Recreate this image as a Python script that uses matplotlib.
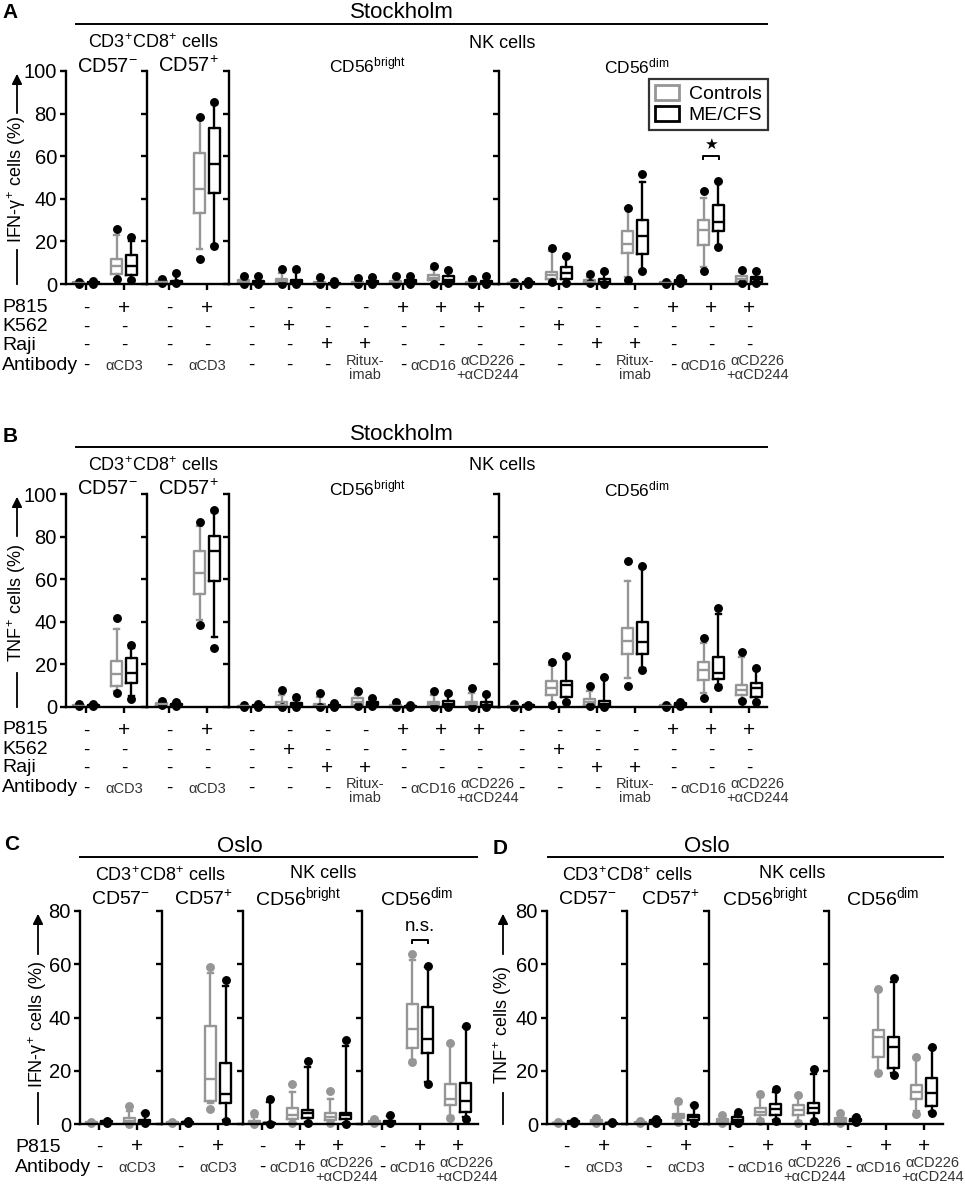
import matplotlib
matplotlib.use('Agg')
import matplotlib.pyplot as plt
from matplotlib.lines import Line2D
from matplotlib.patches import Patch, FancyArrowPatch
import matplotlib.transforms as mtrans

plt.rcParams['font.family'] = ['Liberation Sans', 'DejaVu Sans']
plt.rcParams['mathtext.fontset'] = 'custom'
plt.rcParams['mathtext.rm'] = 'Liberation Sans'
plt.rcParams['mathtext.it'] = 'Liberation Sans:italic'
plt.rcParams['mathtext.bf'] = 'Liberation Sans:bold'

# ---------------- DATA: each box = [min, whisker_lo, q1, median, q3, whisker_hi, max] ----------------
# Panel A (Stockholm, IFN-gamma)
A_cd57neg_ctrl = [[0.2, 0.2, 0.3, 0.5, 0.8, 1.0, 1.0], [2.2, 2.2, 4.7, 8.6, 11.6, 22.8, 26.0]]
A_cd57neg_me = [[0.2, 0.2, 0.3, 0.5, 0.9, 1.4, 1.4], [1.9, 2.2, 4.4, 8.6, 13.6, 20.3, 22.0]]
A_cd57pos_ctrl = [[0.5, 0.5, 0.7, 1.0, 1.5, 2.2, 2.2], [11.7, 16.6, 33.2, 44.8, 61.3, 77.8, 78.4]]
A_cd57pos_me = [[0.3, 0.3, 0.5, 0.8, 1.5, 4.5, 5.0], [18.0, 18.3, 42.9, 56.3, 73.4, 84.5, 85.6]]
A_bright_ctrl = [[0.1, 0.1, 0.3, 0.8, 1.8, 3.0, 3.8], [0.2, 0.2, 0.5, 1.2, 2.2, 5.0, 7.2],
                 [0.1, 0.1, 0.2, 0.4, 1.0, 2.5, 3.4], [0.1, 0.1, 0.2, 0.4, 0.8, 2.0, 2.8],
                 [0.1, 0.1, 0.3, 0.8, 1.5, 3.0, 3.8], [0.2, 0.3, 1.9, 2.8, 4.2, 6.9, 8.5],
                 [0.1, 0.1, 0.2, 0.5, 1.0, 1.8, 2.2]]
A_bright_me = [[0.1, 0.1, 0.2, 0.5, 1.5, 3.2, 3.8], [0.1, 0.1, 0.3, 0.8, 2.0, 5.5, 6.9],
               [0.05, 0.05, 0.1, 0.2, 0.5, 1.2, 1.6], [0.1, 0.1, 0.3, 0.6, 1.2, 2.8, 3.4],
               [0.2, 0.2, 0.5, 1.0, 2.0, 3.0, 3.8], [0.3, 0.5, 1.0, 2.0, 3.8, 5.8, 6.6],
               [0.1, 0.1, 0.3, 0.6, 1.2, 3.0, 3.8]]
A_dim_ctrl = [[0.2, 0.2, 0.3, 0.5, 0.7, 1.0, 1.0], [1.0, 1.4, 2.2, 4.2, 5.8, 15.6, 17.0],
              [0.3, 0.3, 0.5, 0.9, 1.9, 3.5, 4.7], [1.9, 3.4, 14.4, 18.6, 24.7, 35.5, 35.8],
              [0.2, 0.2, 0.3, 0.5, 0.8, 1.0, 1.0], [6.1, 8.1, 18.3, 25.4, 30.0, 40.2, 43.7],
              [0.5, 0.8, 1.0, 2.2, 3.8, 5.5, 6.6]]
A_dim_me = [[0.2, 0.2, 0.3, 0.5, 0.9, 1.4, 1.4], [0.6, 1.0, 2.2, 5.3, 8.1, 12.8, 13.3],
            [0.2, 0.3, 0.5, 1.0, 2.2, 5.0, 6.3], [6.1, 6.5, 13.9, 22.5, 29.9, 47.7, 51.6],
            [0.3, 0.5, 0.8, 1.2, 2.0, 2.7, 2.7], [17.4, 17.8, 24.9, 29.3, 37.2, 48.0, 48.4],
            [0.5, 0.8, 1.0, 2.5, 3.5, 5.5, 6.3]]

# Panel B (Stockholm, TNF)
B_cd57neg_ctrl = [[0.3, 0.3, 0.5, 0.7, 1.0, 1.3, 1.3], [6.5, 7.6, 9.7, 15.7, 21.8, 36.6, 41.6]]
B_cd57neg_me = [[0.3, 0.3, 0.5, 0.8, 1.1, 1.6, 1.6], [3.9, 5.0, 11.2, 15.9, 23.2, 27.6, 29.1]]
B_cd57pos_ctrl = [[0.8, 0.8, 1.0, 1.5, 2.0, 2.6, 2.6], [38.5, 40.7, 53.1, 63.1, 73.2, 84.9, 87.0]]
B_cd57pos_me = [[0.5, 0.6, 0.8, 1.2, 1.6, 2.2, 2.2], [27.7, 32.7, 59.0, 73.4, 80.2, 91.7, 92.7]]
B_bright_ctrl = [[0.1, 0.1, 0.2, 0.4, 0.7, 1.0, 1.0], [0.2, 0.2, 0.4, 0.9, 2.2, 5.5, 7.9],
                 [0.1, 0.1, 0.3, 0.6, 1.5, 4.5, 6.5], [0.3, 0.5, 1.0, 2.2, 4.2, 5.5, 7.3],
                 [0.1, 0.1, 0.2, 0.4, 0.8, 1.8, 2.2], [0.2, 0.3, 0.5, 1.2, 2.5, 5.5, 7.6],
                 [0.2, 0.3, 0.5, 1.2, 2.5, 6.5, 8.9]]
B_bright_me = [[0.1, 0.1, 0.3, 0.5, 0.8, 1.4, 1.4], [0.2, 0.3, 0.5, 0.9, 2.0, 3.5, 4.5],
               [0.1, 0.1, 0.3, 0.6, 1.0, 1.6, 1.9], [0.3, 0.5, 0.8, 1.5, 2.5, 3.6, 4.2],
               [0.1, 0.1, 0.2, 0.4, 0.6, 0.9, 1.0], [0.2, 0.3, 0.6, 1.5, 3.0, 5.5, 6.4],
               [0.2, 0.3, 0.5, 1.0, 2.5, 5.0, 6.1]]
B_dim_ctrl = [[0.1, 0.1, 0.2, 0.3, 0.6, 1.0, 1.4], [0.8, 1.9, 5.5, 8.9, 12.0, 19.8, 21.3],
              [0.3, 0.5, 1.1, 2.2, 3.9, 7.5, 9.7], [10.0, 13.5, 24.9, 31.2, 37.2, 59.2, 68.4],
              [0.2, 0.2, 0.3, 0.5, 0.8, 1.0, 1.0], [4.2, 6.5, 12.5, 17.4, 21.3, 29.9, 32.2],
              [2.6, 3.4, 5.5, 8.1, 10.4, 23.4, 26.0]]
B_dim_me = [[0.3, 0.3, 0.5, 0.8, 1.0, 1.1, 1.1], [2.3, 3.0, 4.5, 10.4, 12.3, 23.7, 24.0],
            [0.2, 0.3, 0.5, 1.2, 3.0, 13.5, 14.3], [17.3, 18.2, 24.8, 30.7, 40.0, 65.4, 66.2],
            [0.3, 0.5, 0.8, 1.2, 1.8, 2.2, 2.2], [9.3, 10.4, 13.2, 15.9, 23.7, 43.5, 46.6],
            [2.2, 3.0, 4.8, 8.9, 11.2, 17.5, 18.2]]

# Panel C (Oslo, IFN-gamma)
C_cd57neg_ctrl = [[0.2, 0.2, 0.3, 0.5, 0.7, 0.9, 0.9], [0.1, 0.2, 0.5, 1.0, 2.1, 5.0, 6.8]]
C_cd57neg_me = [[0.5, 0.5, 0.6, 0.8, 1.0, 1.2, 1.2], [0.3, 0.4, 0.6, 1.0, 1.5, 4.0, 4.0]]
C_cd57pos_ctrl = [[0.2, 0.2, 0.3, 0.5, 0.7, 0.9, 0.9], [5.6, 8.0, 8.8, 17.0, 36.9, 56.8, 59.0]]
C_cd57pos_me = [[0.3, 0.3, 0.5, 0.6, 0.9, 1.2, 1.2], [1.3, 1.5, 8.0, 11.1, 22.8, 52.0, 54.0]]
C_bright_ctrl = [[0.1, 0.1, 0.2, 0.4, 1.0, 2.5, 4.0], [0.3, 0.5, 1.8, 3.4, 5.9, 12.0, 15.0],
                 [0.3, 0.5, 1.5, 2.8, 4.3, 9.5, 12.5]]
C_bright_me = [[0.1, 0.1, 0.2, 0.3, 0.5, 8.4, 9.5], [0.3, 0.8, 2.1, 4.0, 5.3, 21.5, 23.5],
               [0.1, 0.3, 1.8, 3.4, 4.3, 29.3, 31.5]]
C_dim_ctrl = [[0.3, 0.3, 0.5, 0.8, 1.2, 1.8, 1.8], [23.2, 24.0, 28.4, 35.7, 45.0, 61.6, 64.0],
              [2.1, 3.0, 7.1, 9.4, 15.0, 30.0, 30.5]]
C_dim_me = [[0.2, 0.2, 0.3, 0.5, 1.0, 3.0, 3.4], [15.1, 15.6, 26.8, 32.0, 44.0, 59.0, 59.4],
            [2.0, 2.5, 4.5, 8.8, 15.3, 36.5, 36.9]]

# Panel D (Oslo, TNF)
D_cd57neg_ctrl = [[0.2, 0.2, 0.3, 0.4, 0.5, 0.6, 0.6], [0.5, 0.5, 0.8, 1.2, 1.6, 2.1, 2.1]]
D_cd57neg_me = [[0.5, 0.5, 0.6, 0.8, 1.0, 1.1, 1.1], [0.2, 0.2, 0.3, 0.4, 0.5, 0.6, 0.6]]
D_cd57pos_ctrl = [[0.2, 0.2, 0.3, 0.5, 0.7, 1.0, 1.0], [0.9, 1.2, 2.1, 3.0, 3.8, 7.5, 8.6]]
D_cd57pos_me = [[0.5, 0.5, 0.8, 1.0, 1.5, 1.9, 1.9], [0.5, 0.8, 1.5, 2.5, 3.4, 7.1, 7.1]]
D_bright_ctrl = [[0.2, 0.3, 0.5, 1.0, 2.0, 3.0, 3.4], [1.3, 1.8, 3.4, 4.6, 5.9, 10.0, 11.3],
                 [0.3, 1.0, 3.4, 5.3, 7.1, 10.0, 10.9]]
D_bright_me = [[0.5, 0.8, 0.9, 1.5, 2.8, 3.4, 4.6], [1.3, 1.6, 3.4, 5.5, 7.5, 12.1, 13.1],
               [1.3, 1.3, 4.0, 5.9, 7.8, 18.8, 20.5]]
D_dim_ctrl = [[0.5, 0.8, 0.9, 1.5, 2.1, 3.0, 4.0], [19.0, 20.0, 25.3, 32.5, 35.3, 50.0, 50.7],
              [3.8, 5.0, 9.3, 12.1, 14.6, 24.5, 25.3]]
D_dim_me = [[0.8, 0.9, 1.0, 1.5, 2.0, 2.8, 2.8], [18.3, 19.0, 20.9, 29.0, 32.8, 53.4, 54.9],
            [4.0, 4.5, 6.8, 11.5, 17.4, 28.5, 29.0]]

# Condition rows
sthlm_t_p815 = ['-', '+']
sthlm_t_k562 = ['-', '-']
sthlm_t_raji = ['-', '-']
sthlm_t_ab = ['-', 'αCD3']
sthlm_nk_p815 = ['-', '-', '-', '-', '+', '+', '+']
sthlm_nk_k562 = ['-', '+', '-', '-', '-', '-', '-']
sthlm_nk_raji = ['-', '-', '+', '+', '-', '-', '-']
sthlm_nk_ab = ['-', '-', '-', 'Ritux-\nimab', '-', 'αCD16', 'αCD226\n+αCD244']
oslo_t_p815 = ['-', '+']
oslo_t_ab = ['-', 'αCD3']
oslo_nk_p815 = ['-', '+', '+']
oslo_nk_ab = ['-', 'αCD16', 'αCD226\n+αCD244']

# ---------------- FIGURE ----------------
W, H = 965, 1186
fig = plt.figure(figsize=(W / 100, H / 100), dpi=100)
GRAY = '#969696'
SLOT = 38.0
LW = 1.7


def fx(x):
    return x / W


def fy(y):
    return 1 - y / H


def make_axes(xl, xr, ytop, ybot, first_px, n, ymax, show_labels):
    ax = fig.add_axes([fx(xl), fy(ybot), (xr - xl) / W, (ybot - ytop) / H])
    ax.set_xlim(-first_px / SLOT, (xr - xl - first_px) / SLOT)
    ax.set_ylim(0, ymax)
    ax.patch.set_alpha(0)
    for s in ['top', 'right']:
        ax.spines[s].set_visible(False)
    for s in ['left', 'bottom']:
        ax.spines[s].set_linewidth(LW)
    ax.set_xticks(range(n))
    ax.set_xticklabels([])
    ax.set_yticks(range(0, ymax + 1, 20))
    ax.tick_params(axis='both', direction='out', length=4.5, width=LW, labelsize=14.5, pad=2)
    if not show_labels:
        ax.set_yticklabels([])
    return ax


def draw_group(ax, stats_list, offset, color, dotcolor):
    stats = [dict(whislo=s[1], q1=s[2], med=s[3], q3=s[4], whishi=s[5], fliers=[s[0], s[6]])
             for s in stats_list]
    pos = [i + offset for i in range(len(stats_list))]
    art = ax.bxp(stats, positions=pos, widths=0.29, capwidths=0.13, manage_ticks=False,
                 boxprops=dict(color=color, lw=LW), whiskerprops=dict(color=color, lw=LW),
                 capprops=dict(color=color, lw=LW), medianprops=dict(color=color, lw=LW),
                 flierprops=dict(marker='o', markerfacecolor=dotcolor, markeredgecolor=dotcolor,
                                 markersize=5.4))
    for v in art.values():
        for a in v:
            a.set_clip_on(False)


NUDGE = {'αCD16': -0.2, 'αCD226\n+αCD244': 0.22}


def rows(ax, row_list, ys):
    tr = mtrans.blended_transform_factory(ax.transData, fig.transFigure)
    for vals, y in zip(row_list, ys):
        for i, v in enumerate(vals):
            ax.text(i, fy(y), v, transform=tr, ha='center', va='center',
                    fontsize=15 if v == '+' else 13.5)


def ab_row(ax, vals, y):
    tr = mtrans.blended_transform_factory(ax.transData, fig.transFigure)
    for i, v in enumerate(vals):
        if v == '-':
            ax.text(i, fy(y), v, transform=tr, ha='center', va='center', fontsize=13.5)
        else:
            yy = y + 3 if '\n' in v else y + 1
            ax.text(i + NUDGE.get(v, 0), fy(yy), v, transform=tr, ha='center', va='center',
                    fontsize=10.5, color='#333333', linespacing=0.95)


def ylabel_arrow(x, text, yc, top_start, tip, bot_start, bot_end):
    fig.text(fx(x), fy(yc), text, rotation=90, ha='center', va='center', fontsize=13)
    fig.add_artist(Line2D([fx(x), fx(x)], [fy(bot_start), fy(bot_end)], color='black', lw=1.3))
    fig.add_artist(FancyArrowPatch((fx(x), fy(top_start)), (fx(x), fy(tip)),
                                   transform=fig.transFigure, arrowstyle='-|>',
                                   mutation_scale=15, lw=1.3, color='black'))


def header(x, y, text, x0, x1, yline):
    fig.text(fx(x), fy(y), text, ha='center', va='center', fontsize=16)
    fig.add_artist(Line2D([fx(x0), fx(x1)], [fy(yline), fy(yline)], color='black', lw=1.4))


def stockholm_panel(dy, data, letter, ylab):
    ytop, ybot = 71 + dy, 284 + dy
    specs = [(66, 147, 20, 2), (147, 229, 22, 2), (229, 499, 22, 7), (499, 767, 22, 7)]
    axes = []
    for k, ((xl, xr, fp, n), (ctrl, me)) in enumerate(zip(specs, data)):
        ax = make_axes(xl, xr, ytop, ybot, fp, n, 100, k == 0)
        draw_group(ax, ctrl, -0.19, GRAY, 'black')
        draw_group(ax, me, 0.19, 'black', 'black')
        if n == 2:
            rows(ax, [sthlm_t_p815, sthlm_t_k562, sthlm_t_raji], [308 + dy, 327 + dy, 345 + dy])
            ab_row(ax, sthlm_t_ab, 365 + dy)
        else:
            rows(ax, [sthlm_nk_p815, sthlm_nk_k562, sthlm_nk_raji], [308 + dy, 327 + dy, 345 + dy])
            ab_row(ax, sthlm_nk_ab, 365 + dy)
        axes.append(ax)
    for name, y in [('P815', 307), ('K562', 327), ('Raji', 345), ('Antibody', 365)]:
        fig.text(fx(2), fy(y + dy), name, ha='left', va='center', fontsize=14)
    fig.text(fx(10), fy(13 + dy), letter, ha='center', va='center', fontsize=15, fontweight='bold')
    header(402, 12 + dy, 'Stockholm', 76, 767, 24 + dy)
    fig.text(fx(153), fy(43 + dy), r'CD3$^{+}$CD8$^{+}$ cells', ha='center', va='center', fontsize=13)
    fig.text(fx(502), fy(43 + dy), 'NK cells', ha='center', va='center', fontsize=13)
    fig.text(fx(107), fy(66 + dy), r'CD57$^{-}$', ha='center', va='center', fontsize=14.5)
    fig.text(fx(188), fy(66 + dy), r'CD57$^{+}$', ha='center', va='center', fontsize=14.5)
    fig.text(fx(367), fy(65 + dy), r'CD56$^{\mathrm{bright}}$', ha='center', va='center', fontsize=12.5)
    fig.text(fx(637), fy(66 + dy), r'CD56$^{\mathrm{dim}}$', ha='center', va='center', fontsize=12.5)
    ylabel_arrow(17, ylab, 180 + dy, 116 + dy, 71 + dy, 250 + dy, 284 + dy)
    return axes


def oslo_panel(x_specs, data, letter, letter_xy, ylab, ylab_x, title_x, line_x, sub_x, show_rowlab):
    ytop, ybot = 911, 1124
    axes = []
    for k, ((xl, xr, fp, n), (ctrl, me)) in enumerate(zip(x_specs, data)):
        ax = make_axes(xl, xr, ytop, ybot, fp, n, 80, k == 0)
        draw_group(ax, ctrl, -0.2, GRAY, GRAY)
        draw_group(ax, me, 0.2, 'black', 'black')
        if n == 2:
            rows(ax, [oslo_t_p815], [1147])
            ab_row(ax, oslo_t_ab, 1167)
        else:
            rows(ax, [oslo_nk_p815], [1147])
            ab_row(ax, oslo_nk_ab, 1167)
        axes.append(ax)
    if show_rowlab:
        fig.text(fx(15), fy(1147), 'P815', ha='left', va='center', fontsize=14)
        fig.text(fx(15), fy(1167), 'Antibody', ha='left', va='center', fontsize=14)
    fig.text(fx(letter_xy[0]), fy(letter_xy[1]), letter, ha='center', va='center',
             fontsize=15, fontweight='bold')
    header(title_x, 846, 'Oslo', line_x[0], line_x[1], 857)
    fig.text(fx(sub_x[0]), fy(876), r'CD3$^{+}$CD8$^{+}$ cells', ha='center', va='center', fontsize=13)
    fig.text(fx(sub_x[1]), fy(873), 'NK cells', ha='center', va='center', fontsize=13)
    fig.text(fx(sub_x[2]), fy(899), r'CD57$^{-}$', ha='center', va='center', fontsize=14)
    fig.text(fx(sub_x[3]), fy(899), r'CD57$^{+}$', ha='center', va='center', fontsize=14)
    fig.text(fx(sub_x[4]), fy(897), r'CD56$^{\mathrm{bright}}$', ha='center', va='center', fontsize=14)
    fig.text(fx(sub_x[5]), fy(897), r'CD56$^{\mathrm{dim}}$', ha='center', va='center', fontsize=14)
    ylabel_arrow(ylab_x, ylab, 1025, 957, 911, 1093, 1124)
    return axes


axA = stockholm_panel(0, [(A_cd57neg_ctrl, A_cd57neg_me), (A_cd57pos_ctrl, A_cd57pos_me),
                          (A_bright_ctrl, A_bright_me), (A_dim_ctrl, A_dim_me)],
                      'A', r'IFN-γ$^{+}$ cells (%)')
axB = stockholm_panel(423, [(B_cd57neg_ctrl, B_cd57neg_me), (B_cd57pos_ctrl, B_cd57pos_me),
                            (B_bright_ctrl, B_bright_me), (B_dim_ctrl, B_dim_me)],
                      'B', r'TNF$^{+}$ cells (%)')
axC = oslo_panel([(80, 162, 19, 2), (162, 243, 18, 2), (243, 362, 19, 3), (362, 478, 20, 3)],
                 [(C_cd57neg_ctrl, C_cd57neg_me), (C_cd57pos_ctrl, C_cd57pos_me),
                  (C_bright_ctrl, C_bright_me), (C_dim_ctrl, C_dim_me)],
                 'C', (12, 845), r'IFN-γ$^{+}$ cells (%)', 38, 240, (80, 477),
                 (160, 323, 120, 203, 298, 417), True)
axD = oslo_panel([(547, 627, 19, 2), (627, 709, 21, 2), (709, 829, 21, 3), (829, 943, 19, 3)],
                 [(D_cd57neg_ctrl, D_cd57neg_me), (D_cd57pos_ctrl, D_cd57pos_me),
                  (D_bright_ctrl, D_bright_me), (D_dim_ctrl, D_dim_me)],
                 'D', (500, 848), r'TNF$^{+}$ cells (%)', 503, 707, (548, 943),
                 (627, 792, 587, 670, 765, 883), False)

# Legend (panel A)
handles = [Patch(facecolor='white', edgecolor=GRAY, lw=2.0, label='Controls'),
           Patch(facecolor='white', edgecolor='black', lw=2.0, label='ME/CFS')]
leg = fig.legend(handles=handles, loc='upper right', bbox_to_anchor=(fx(768), fy(79)),
                 bbox_transform=fig.transFigure, fontsize=14, frameon=True, fancybox=False,
                 borderpad=0.3, labelspacing=0.12, handlelength=1.25, handleheight=0.85,
                 handletextpad=0.5, borderaxespad=0)
leg.get_frame().set_edgecolor('black')
leg.get_frame().set_linewidth(1.6)

# Significance marks
axd = axA[3]
axd.plot([5 - 0.22, 5 - 0.22, 5 + 0.22, 5 + 0.22], [58.8, 60.1, 60.1, 58.8], color='black', lw=1.4, clip_on=False)
axd.text(5, 65.5, '★', ha='center', va='center', fontsize=11, family='DejaVu Sans')
axc = axC[3]
axc.plot([1 - 0.2, 1 - 0.2, 1 + 0.2, 1 + 0.2], [67.9, 69.1, 69.1, 67.9], color='black', lw=1.4, clip_on=False)
axc.text(1, 74.2, 'n.s.', ha='center', va='center', fontsize=13.5)

fig.savefig('out.png', dpi=100)
